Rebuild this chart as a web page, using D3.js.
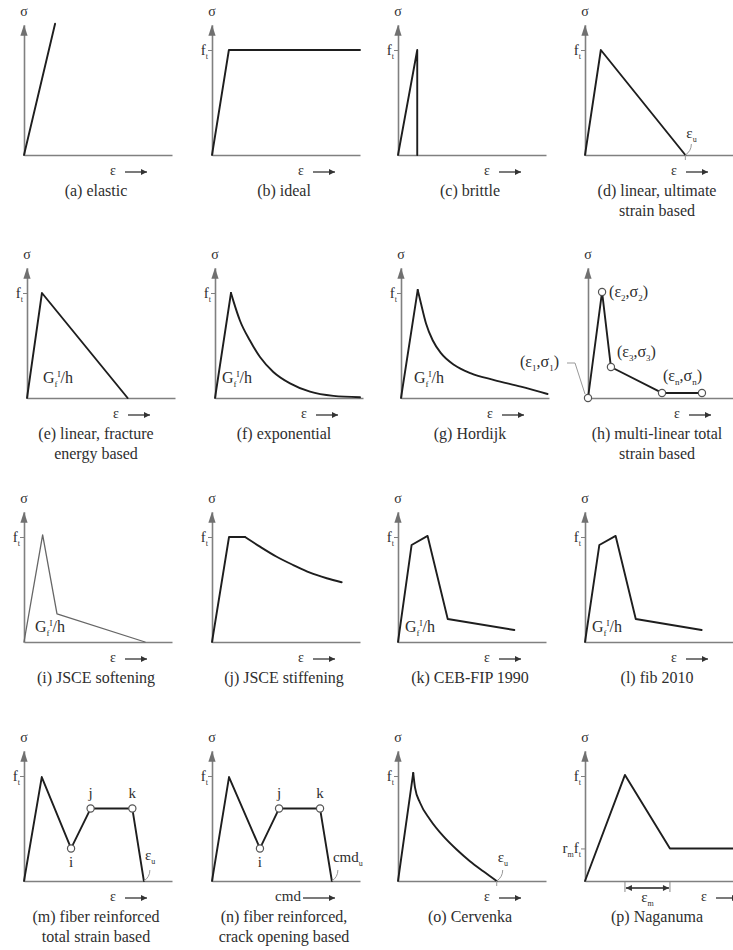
<!DOCTYPE html>
<html>
<head>
<meta charset="utf-8">
<script src="https://cdn.jsdelivr.net/npm/d3@7"></script>
<style>
    body { margin: 0; background: #fff; }
    text { font-family: "Liberation Serif", "Times New Roman", serif; fill: #2e2e2e; }
</style>
</head>
<body>
<svg id="chart" width="733" height="950"></svg>
<script>
// Captions under each small diagram, line by line
var captions = [
    ["(a) elastic"], ["(b) ideal"], ["(c) brittle"], ["(d) linear, ultimate", "strain based"],
    ["(e) linear, fracture", "energy based"], ["(f) exponential"], ["(g) Hordijk"], ["(h) multi-linear total", "strain based"],
    ["(i) JSCE softening"], ["(j) JSCE stiffening"], ["(k) CEB-FIP 1990"], ["(l) fib 2010"],
    ["(m) fiber reinforced", "total strain based"], ["(n) fiber reinforced,", "crack opening based"], ["(o) Cervenka"], ["(p) Naganuma"]
];

// Curve points as [strain, stress]: strain as a fraction of the axis length, stress as a fraction of f_t
var elastic = [[0, 0], [0.21, 1.25]];
var ideal = [[0, 0], [0.114, 1], [1, 1]];
var brittle = [[0, 0], [0.13, 1], [0.13, 0]];
var linearUltimate = [[0, 0], [0.107, 1], [0.678, 0]];
var linearFracture = [[0, 0], [0.101, 1], [0.68, 0]];
var expRise = [[0, 0], [0.108, 1]];
var expTail = [[0.108, 1], [0.124, 0.925], [0.169, 0.736], [0.236, 0.547], [0.304, 0.39], [0.394, 0.248],
    [0.507, 0.139], [0.642, 0.06], [0.8, 0.02], [0.98, 0.007]];
var hordijkRise = [[0, 0], [0.113, 1.03]];
var hordijkTail = [[0.113, 1.03], [0.135, 0.9], [0.169, 0.71], [0.214, 0.55], [0.27, 0.427], [0.36, 0.314],
    [0.473, 0.235], [0.63, 0.171], [0.81, 0.108], [0.99, 0.038]];
var multiLinear = [[0, 0], [0.095, 1.01], [0.155, 0.295], [0.5, 0.048], [0.77, 0.048]];
var jsceSoftening = [[0, 0], [0.126, 1.02], [0.223, 0.267], [0.818, 0]];
var jsceRise = [[0, 0], [0.115, 1], [0.223, 1]];
var jsceTail = [[0.223, 1], [0.324, 0.908], [0.437, 0.812], [0.549, 0.733], [0.662, 0.66], [0.775, 0.607], [0.876, 0.569]];
var cebFip1990 = [[0, 0], [0.092, 0.924], [0.2, 1.01], [0.336, 0.219], [0.786, 0.114]];
var fib2010 = [[0, 0], [0.097, 0.924], [0.207, 1.01], [0.343, 0.219], [0.788, 0.114]];
var fiberStrain = [[0, 0], [0.12, 0.99], [0.318, 0.31], [0.45, 0.69], [0.732, 0.69], [0.81, 0]];
var fiberCrack = [[0, 0], [0.115, 0.99], [0.324, 0.31], [0.453, 0.69], [0.73, 0.69], [0.81, 0]];
var cervenkaRise = [[0, 0], [0.103, 1.03]];
var cervenkaTail = [[0.103, 1.03], [0.115, 0.889], [0.149, 0.745], [0.216, 0.586], [0.306, 0.427], [0.396, 0.3],
    [0.486, 0.189], [0.576, 0.093], [0.667, 0]];
var naganuma = [[0, 0], [0.27, 1.01], [0.574, 0.31], [1, 0.31]];
var naganumaResidual = 0.31;          // r_m
var naganumaStrainRange = [0.27, 0.574]; // eps_m

// Layout of the 4 x 4 grid
var colX = [24, 212, 398, 585];
var rowBase = [155, 398, 642, 881];
var rowShift = [0, 3, 0, 0];
var plotW = 148, ftH = 105, axisTop = 1.24;

var svg = d3.select("#chart");

svg.append("defs").append("marker")
    .attr("id", "arr")
    .attr("viewBox", "0 0 10 10")
    .attr("refX", 10).attr("refY", 5)
    .attr("markerWidth", 8).attr("markerHeight", 6)
    .attr("markerUnits", "userSpaceOnUse")
    .attr("orient", "auto-start-reverse")
    .append("path").attr("d", "M0,0L10,5L0,10z").attr("fill", "#333");

// text with sub/superscript parts: "plain" or [text, baselineOffset]
function richText(g, x, y, parts, anchor, size) {
    var t = g.append("text")
        .attr("x", x).attr("y", y)
        .attr("text-anchor", anchor || "start")
        .style("font-size", size + "px");
    var shift = 0;
    parts.forEach(function (p) {
        var s = typeof p === "string" ? [p, 0] : p;
        var ts = t.append("tspan").text(s[0]).attr("dy", s[1] - shift);
        if (s[1] !== 0) ts.style("font-size", Math.round(size * 0.55) + "px");
        shift = s[1];
    });
    return t;
}

var FT = ["f", ["t", 4]];
var GF = ["G", ["f", 4], ["I", -6], "/h"];

var panels = [
    {paths: [[elastic]], ticks: []},
    {paths: [[ideal]], ticks: [1]},
    {paths: [[brittle]], ticks: [1]},
    {paths: [[linearUltimate]], ticks: [1], ult: {pt: linearUltimate[2], dy: -17, text: ["ε", ["u", 4]], tick: true}},
    {paths: [[linearFracture]], ticks: [1], gf: [0.108, 0.143]},
    {paths: [[expRise], [expTail, true]], ticks: [1], gf: [0.047, 0.143]},
    {paths: [[hordijkRise], [hordijkTail, true]], ticks: [1], gf: [0.088, 0.143]},
    {paths: [[multiLinear]], ticks: [], markers: multiLinear, multi: true},
    {paths: [[jsceSoftening]], ticks: [1], gf: [0.074, 0.095], color: "#666", width: 1.3},
    {paths: [[jsceRise], [jsceTail, true]], ticks: [1]},
    {paths: [[cebFip1990]], ticks: [1], gf: [0.047, 0.095]},
    {paths: [[fib2010]], ticks: [1], gf: [0.047, 0.095]},
    {paths: [[fiberStrain]], ticks: [1], markers: fiberStrain.slice(2, 5), ijk: true,
        ult: {pt: fiberStrain[5], dy: -21, text: ["ε", ["u", 4]]}},
    {paths: [[fiberCrack]], ticks: [1], markers: fiberCrack.slice(2, 5), ijk: true, xLabel: "cmd",
        ult: {pt: fiberCrack[5], dy: -19, text: ["cmd", ["u", 4]]}},
    {paths: [[cervenkaRise], [cervenkaTail, true]], ticks: [1],
        ult: {pt: cervenkaTail[cervenkaTail.length - 1], dy: -19, text: ["ε", ["u", 4]], tick: true}},
    {paths: [[naganuma]], ticks: [1, naganumaResidual], naga: true, epsShift: 30}
];

panels.forEach(function (p, i) {
    var row = Math.floor(i / 4), col = i % 4;
    var ox = colX[col] + rowShift[row], base = rowBase[row];

    var x = d3.scaleLinear().domain([0, 1]).range([ox, ox + plotW]);
    var y = d3.scaleLinear().domain([0, 1]).range([base, base - ftH]);
    var yAx = d3.scaleLinear().domain([0, axisTop]).range([base, y(axisTop)]);

    var g = svg.append("g");

    // x axis (plain line)
    g.append("g")
        .attr("transform", "translate(0," + base + ")")
        .attr("color", "#808080")
        .call(d3.axisBottom(x).tickValues([]).tickSizeOuter(0))
        .select(".domain").attr("stroke-width", 1.6);

    // y axis with the f_t tick
    g.append("g")
        .attr("transform", "translate(" + ox + ",0)")
        .attr("color", "#808080")
        .call(d3.axisLeft(yAx).tickValues(p.ticks).tickSize(4).tickFormat("").tickSizeOuter(0))
        .call(function (a) { a.select(".domain").attr("stroke-width", 1.6); });

    // arrow head on the stress axis
    var tip = yAx(axisTop);
    g.append("path")
        .attr("d", "M" + (ox - 3.6) + "," + (tip + 11) + "L" + ox + "," + tip + "L" + (ox + 3.6) + "," + (tip + 11) + "Z")
        .attr("fill", "#707070");

    g.append("text").attr("x", ox).attr("y", base - 139).attr("text-anchor", "middle")
        .style("font-size", "14px").text("σ");

    // strain label and arrow
    var sh = p.epsShift || 0;
    if (p.xLabel) {
        g.append("text").attr("x", ox + 76).attr("y", base + 20).attr("text-anchor", "middle")
            .style("font-size", "15px").text(p.xLabel);
        g.append("line").attr("x1", ox + 91).attr("x2", ox + 123)
            .attr("y1", base + 17).attr("y2", base + 17)
            .attr("stroke", "#333").attr("stroke-width", 1.3).attr("marker-end", "url(#arr)");
    } else {
        g.append("text").attr("x", ox + 89 + sh).attr("y", base + 20).attr("text-anchor", "middle")
            .style("font-size", "14px").text("ε");
        g.append("line").attr("x1", ox + 101 + sh).attr("x2", ox + 123 + sh)
            .attr("y1", base + 17).attr("y2", base + 17)
            .attr("stroke", "#333").attr("stroke-width", 1.3).attr("marker-end", "url(#arr)");
    }

    // f_t label
    if (p.ticks.indexOf(1) >= 0) {
        richText(g, ox - 4, y(1) + 4.5, FT, "end", 15);
    }

    // curves
    p.paths.forEach(function (c) {
        var line = d3.line()
            .x(function (d) { return x(d[0]); })
            .y(function (d) { return y(d[1]); })
            .curve(c[1] ? d3.curveMonotoneX : d3.curveLinear);
        g.append("path")
            .attr("d", line(c[0]))
            .attr("fill", "none")
            .attr("stroke", p.color || "#1e1e1e")
            .attr("stroke-width", p.width || 1.9)
            .attr("stroke-linejoin", "round")
            .attr("stroke-linecap", "round");
    });

    // fracture energy label
    if (p.gf) {
        richText(g, x(p.gf[0]), y(p.gf[1]), GF, "start", 16);
    }

    // ultimate strain annotation with leader
    if (p.ult) {
        var ux = x(p.ult.pt[0]), uy = y(p.ult.pt[1]);
        g.append("path")
            .attr("d", "M" + ux + "," + uy + "Q" + (ux + 6) + "," + (uy - 4) + " " + (ux + 6) + "," + (uy - 11))
            .attr("fill", "none").attr("stroke", "#999").attr("stroke-width", 1);
        if (p.ult.tick) {
            g.append("line").attr("x1", ux).attr("x2", ux).attr("y1", uy).attr("y2", uy + 5)
                .attr("stroke", "#999").attr("stroke-width", 1);
        }
        richText(g, ux + 1, uy + p.ult.dy, p.ult.text, "start", 15);
    }

    // multi-linear point labels
    if (p.multi) {
        var m = multiLinear;
        richText(g, x(m[1][0]) + 7, y(m[1][1]) + 5, ["(ε", ["2", 4], ",σ", ["2", 4], ")"], "start", 16);
        richText(g, x(m[2][0]) + 6, y(m[2][1]) - 10, ["(ε", ["3", 4], ",σ", ["3", 4], ")"], "start", 16);
        richText(g, x(m[3][0]) + 1, y(m[3][1]) - 12, ["(ε", ["n", 4], ",σ", ["n", 4], ")"], "start", 16);
        richText(g, x(m[0][0]) - 29, y(m[0][1]) - 31, ["(ε", ["1", 4], ",σ", ["1", 4], ")"], "end", 16);
        var lx = x(m[0][0]), ly = y(m[0][1]);
        g.append("path")
            .attr("d", "M" + (lx - 21) + "," + (ly - 35) + "H" + (lx - 13) + "L" + (lx - 3) + "," + (ly - 4))
            .attr("fill", "none").attr("stroke", "#999").attr("stroke-width", 1);
    }

    // i, j, k labels
    if (p.ijk) {
        var pts = p.markers;
        g.append("text").attr("x", x(pts[0][0])).attr("y", y(pts[0][1]) + 19)
            .attr("text-anchor", "middle").style("font-size", "15px").text("i");
        g.append("text").attr("x", x(pts[1][0])).attr("y", y(pts[1][1]) - 11)
            .attr("text-anchor", "middle").style("font-size", "15px").text("j");
        g.append("text").attr("x", x(pts[2][0])).attr("y", y(pts[2][1]) - 11)
            .attr("text-anchor", "middle").style("font-size", "15px").text("k");
    }

    // Naganuma residual strength and strain range
    if (p.naga) {
        richText(g, ox - 4, y(naganumaResidual) + 4.5, ["r", ["m", 4], "f", ["t", 4]], "end", 15);
        var a0 = x(naganumaStrainRange[0]), a1 = x(naganumaStrainRange[1]);
        [a0, a1].forEach(function (ax) {
            g.append("line").attr("x1", ax).attr("x2", ax).attr("y1", base + 1).attr("y2", base + 11)
                .attr("stroke", "#888").attr("stroke-width", 1);
        });
        g.append("line").attr("x1", a0 + 1).attr("x2", a1 - 1).attr("y1", base + 7).attr("y2", base + 7)
            .attr("stroke", "#222").attr("stroke-width", 1.3)
            .attr("marker-start", "url(#arr)").attr("marker-end", "url(#arr)");
        richText(g, (a0 + a1) / 2, base + 21, ["ε", ["m", 4]], "middle", 15);
    }

    // hollow point markers
    if (p.markers) {
        g.selectAll("circle.pt")
            .data(p.markers)
            .enter()
            .append("circle")
            .attr("class", "pt")
            .attr("cx", function (d) { return x(d[0]); })
            .attr("cy", function (d) { return y(d[1]); })
            .attr("r", 3.6)
            .attr("fill", "#fff")
            .attr("stroke", "#555")
            .attr("stroke-width", 1.2);
    }

    // caption
    captions[i].forEach(function (line, k) {
        g.append("text")
            .attr("x", colX[col] + 72)
            .attr("y", base + 41 + k * 20)
            .attr("text-anchor", "middle")
            .style("font-size", "16px")
            .text(line);
    });
});
</script>
</body>
</html>
